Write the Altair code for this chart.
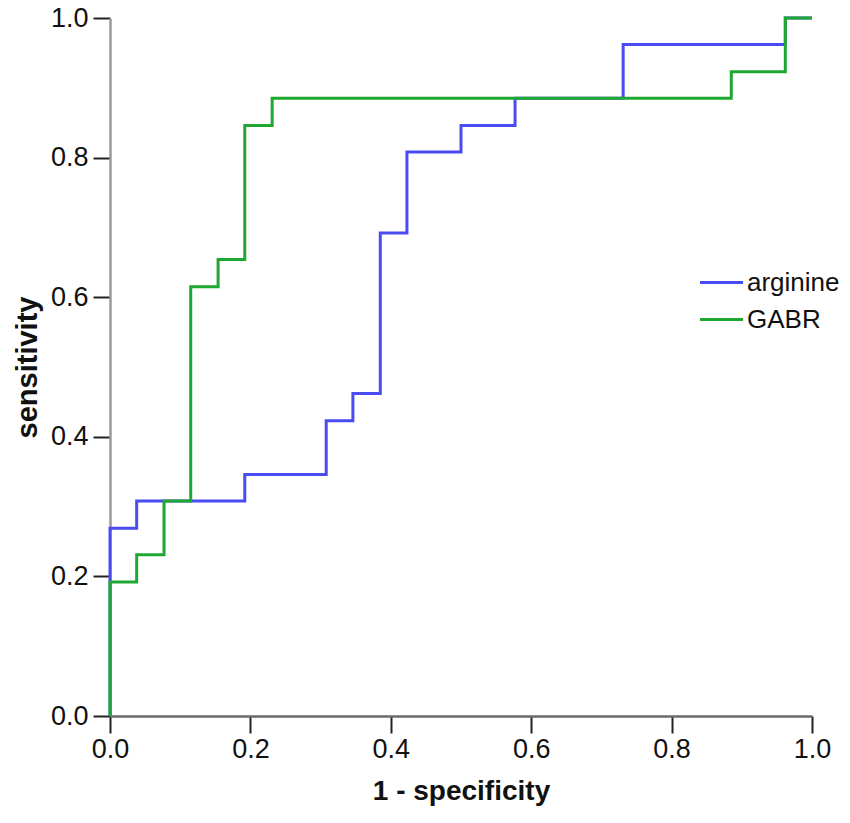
import altair as alt
import pandas as pd

series_names = ["arginine", "GABR"]
series_colors = ["#4B4BF2", "#1FA830"]

arginine_fpr = [0, 0, 0.038, 0.038, 0.192, 0.192, 0.308, 0.308, 0.346, 0.346, 0.385, 0.385,
                0.423, 0.423, 0.5, 0.5, 0.577, 0.577, 0.731, 0.731, 0.962, 0.962, 1.0]
arginine_tpr = [0, 0.269, 0.269, 0.308, 0.308, 0.346, 0.346, 0.423, 0.423, 0.462, 0.462, 0.692,
                0.692, 0.808, 0.808, 0.846, 0.846, 0.885, 0.885, 0.962, 0.962, 1.0, 1.0]

gabr_fpr = [0, 0, 0.038, 0.038, 0.077, 0.077, 0.115, 0.115, 0.154, 0.154, 0.192, 0.192,
            0.231, 0.231, 0.885, 0.885, 0.962, 0.962, 1.0]
gabr_tpr = [0, 0.192, 0.192, 0.231, 0.231, 0.308, 0.308, 0.615, 0.615, 0.654, 0.654, 0.846,
            0.846, 0.885, 0.885, 0.923, 0.923, 1.0, 1.0]

tick_values = [0.0, 0.2, 0.4, 0.6, 0.8, 1.0]

df_a = pd.DataFrame({"fpr": arginine_fpr, "tpr": arginine_tpr,
                     "idx": list(range(len(arginine_fpr))), "series": "arginine"})
df_g = pd.DataFrame({"fpr": gabr_fpr, "tpr": gabr_tpr,
                     "idx": list(range(len(gabr_fpr))), "series": "GABR"})

FONT = "Liberation Sans"

color = alt.Color(
    "series:N",
    scale=alt.Scale(domain=series_names, range=series_colors),
    legend=alt.Legend(
        title=None, orient="none", legendX=588, legendY=241,
        symbolType="stroke", symbolSize=1850, symbolStrokeWidth=3,
        labelFontSize=26, labelFont=FONT, labelColor="#111111",
        labelOffset=2, rowPadding=-22, padding=0,
    ),
)

x = alt.X("fpr:Q", scale=alt.Scale(domain=[0, 1], nice=False),
          axis=alt.Axis(title="1 - specificity", values=tick_values, format=".1f",
                        grid=False, tickSize=17, tickWidth=2, tickColor="#222222",
                        domainColor="#6a6a6a", domainWidth=2.5, labelFlush=False,
                        labelOverlap=False,
                        labelFontSize=27, labelFont=FONT, labelColor="#111111", labelPadding=3,
                        titleFontSize=28, titleFont=FONT, titleFontWeight="bold",
                        titleColor="#111111", titlePadding=15))
y = alt.Y("tpr:Q", scale=alt.Scale(domain=[0, 1], nice=False),
          axis=alt.Axis(title="sensitivity", values=tick_values, format=".1f",
                        grid=False, tickSize=17, tickWidth=2, tickColor="#222222",
                        domainColor="#9a9a9a", domainWidth=2.5, labelFlush=False,
                        labelOverlap=False,
                        labelFontSize=27, labelFont=FONT, labelColor="#111111", labelPadding=5,
                        titleFontSize=29, titleFont=FONT, titleFontWeight="bold",
                        titleColor="#111111", titlePadding=8))

line_a = alt.Chart(df_a).mark_line(strokeWidth=3).encode(x=x, y=y, color=color, order="idx:Q")
line_g = alt.Chart(df_g).mark_line(strokeWidth=3).encode(x=x, y=y, color=color, order="idx:Q")

chart = alt.layer(line_a, line_g).properties(
    width=702, height=698,
    autosize=alt.AutoSizeParams(type="none"),
    padding={"left": 102, "top": 10, "right": 30, "bottom": 90},
).configure_view(stroke=None)

chart.save("out.html", embed_options={"renderer": "svg", "actions": False})
